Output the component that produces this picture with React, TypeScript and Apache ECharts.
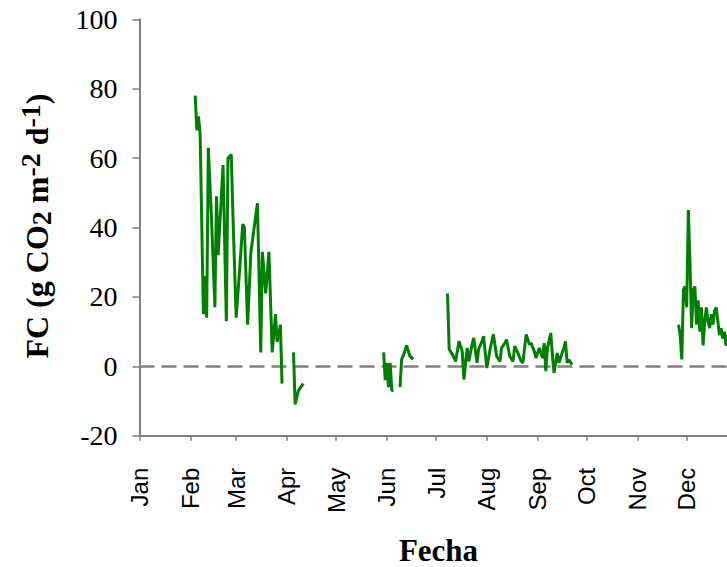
import React, { useEffect, useRef } from "react";
import * as echarts from "echarts";

// Month start positions (day of year) and labels
const monthStarts = [0, 31, 59, 90, 120, 151, 181, 212, 243, 273, 304, 334];
const monthLabels = ["Jan", "Feb", "Mar", "Apr", "May", "Jun", "Jul", "Aug", "Sep", "Oct", "Nov", "Dec"];

// Y ticks
const yMin = -20;
const yMax = 100;
const yStep = 20;

// Feb - Mar
const febMarDays = [34, 35, 36, 37, 39, 40, 41, 42, 44, 46, 47, 48, 51, 53, 54, 56, 57, 59, 61, 63, 64, 66, 68, 70, 72, 74, 75, 77, 79, 81, 83, 84, 86, 87];
const febMarFC = [78, 68, 72, 67, 15, 26, 14, 63, 42, 17, 49, 32, 58, 13, 60, 61, 44, 14, 27, 41, 40, 12, 33, 40, 47, 4, 33, 21, 33, 4, 15, 7, 12, -5];

// early Apr
const aprDays = [94, 95, 97, 100];
const aprFC = [4, -11, -7, -5];

// Jun (two pieces)
const junADays = [149, 150, 151, 152, 153, 154, 155];
const junAFC = [4, -4, 1, -6, 1, -7, -7];
const junBDays = [159, 160, 161, 163, 165, 167];
const junBFC = [-6, 2, 3, 6, 3, 2];

// Jul - Sep
const julSepDays = [188, 189, 191, 193, 195, 197, 198, 200, 201, 203, 204, 206, 207, 209, 210, 212, 214, 216, 218, 220, 221, 223, 224, 226, 228, 229, 231, 233, 234, 236, 238, 239, 241, 242, 244, 246, 247, 248, 249, 251, 252, 253, 255, 256, 257, 259, 260, 261, 262, 264];
const julSepFC = [21, 5, 3.4, 1.4, 7.2, 4.3, -3.8, 5.3, 1.4, 6.3, 8.2, 1, 4.9, 7.2, 8.7, -0.5, 4.9, 9.2, 2.9, 1.4, 5.3, 6.7, 7.7, 2.9, 1.4, 5.8, 3.8, 1.4, 1, 9.2, 6.3, 6.7, 4.3, 2.4, 5.3, 2.4, 6.7, -1.4, 5.3, 9.6, 3.4, -1.9, 3.8, 1, 2.4, 5.3, 7.2, 1, 1.9, 0.5];

// Dec
const decDays = [329, 330, 331, 332, 333, 334, 335, 336, 337, 338, 339, 340, 341, 342, 343, 344, 345, 346, 347, 348, 349, 350, 351, 352, 353, 354, 355, 356, 357, 358, 359, 360];
const decFC = [12, 9, 2, 22, 23, 17, 45, 30, 11, 22, 23, 12, 19, 10, 17, 6, 13, 17, 13, 11, 15, 12, 16, 17, 13, 9, 11, 8, 10, 6, 9, 5];

const segments: [number[], number[]][] = [
  [febMarDays, febMarFC],
  [aprDays, aprFC],
  [junADays, junAFC],
  [junBDays, junBFC],
  [julSepDays, julSepFC],
  [decDays, decFC],
];

function buildData() {
  const out: any[] = [];
  segments.forEach(([d, v], si) => {
    if (si > 0) out.push([d[0] - 0.5, "-"]);
    d.forEach((day, i) => out.push([day, v[i]]));
  });
  return out;
}

export default function App() {
  const ref = useRef<HTMLDivElement>(null);
  useEffect(() => {
    if (!ref.current) return;
    const chart = echarts.init(ref.current, null, { renderer: "svg" });
    const axisColor = "#808080";
    chart.setOption({
      animation: false,
      backgroundColor: "#ffffff",
      grid: { left: 139.5, right: -10.5, top: 19.3, bottom: 131.3, containLabel: false, outerBoundsMode: "none" },
      xAxis: {
        type: "value",
        min: 0,
        max: 365,
        axisLine: { show: true, onZero: false, lineStyle: { color: axisColor, width: 2 } },
        axisTick: { show: true, customValues: monthStarts, length: 5, lineStyle: { color: axisColor, width: 1.5 } },
        axisLabel: {
          show: true,
          customValues: monthStarts,
          rotate: 90,
          margin: 32,
          formatter: (v: number) => monthLabels[monthStarts.indexOf(v)] ?? "",
          fontFamily: "Liberation Sans, Arial, sans-serif",
          fontSize: 24,
          color: "#000",
        },
        splitLine: { show: false },
        name: "Fecha",
        nameLocation: "middle",
        nameGap: 101,
        nameTextStyle: {
          fontFamily: "Liberation Serif, Times New Roman, serif",
          fontWeight: "bold",
          fontSize: 31,
          lineHeight: 28,
          color: "#000",
        },
      },
      yAxis: {
        type: "value",
        min: yMin,
        max: yMax,
        interval: yStep,
        axisLine: { show: true, lineStyle: { color: axisColor, width: 2 } },
        axisTick: { show: true, length: 7, lineStyle: { color: axisColor, width: 1.5 } },
        axisLabel: { fontFamily: "Liberation Serif, Times New Roman, serif", fontSize: 28, color: "#000", margin: 22 },
        splitLine: { show: false },
      },
      graphic: [
        {
          type: "text",
          x: 37,
          y: 226,
          rotation: Math.PI / 2,
          style: {
            text: "{a|FC (g CO}{s|2}{a| m}{p|-2}{a| d}{p|-1}{a|)}",
            align: "center",
            verticalAlign: "middle",
            fill: "#000",
            rich: {
              a: { fontFamily: "Liberation Serif, serif", fontWeight: "bold", fontSize: 32, fill: "#000" },
              s: { fontFamily: "Liberation Serif, serif", fontWeight: "bold", fontSize: 28, fill: "#000", padding: [8, 0, 0, 0] },
              p: { fontFamily: "Liberation Serif, serif", fontWeight: "bold", fontSize: 28, fill: "#000", padding: [0, 0, 14, 0] },
            },
          },
        },
      ],
      series: [
        {
          type: "line",
          data: buildData(),
          showSymbol: false,
          connectNulls: false,
          lineStyle: { color: "#008000", width: 3 },
          itemStyle: { color: "#008000" },
          z: 3,
          markLine: {
            silent: true,
            symbol: "none",
            label: { show: false },
            lineStyle: { color: "#808080", width: 2.5, type: [15, 7] },
            data: [{ yAxis: 0 }],
            z: 2,
          },
        },
      ],
    });
    return () => chart.dispose();
  }, []);
  return (
    <div
      ref={ref}
      style={{ position: "fixed", left: 0, top: 0, width: 727, height: 567, background: "#fff" }}
    />
  );
}
